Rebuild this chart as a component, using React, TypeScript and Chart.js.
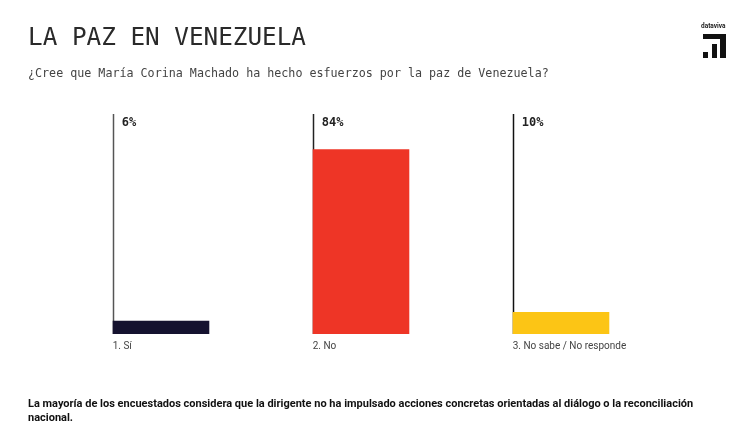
import React, { useEffect, useRef } from "react";
import { Chart, registerables } from "chart.js";

Chart.register(...registerables);

const categories = ["1. Sí", "2. No", "3. No sabe / No responde"];
const values = [6, 84, 10];
const barColors = ["#15122f", "#ee3526", "#fcc515"];
const lineColors = ["#555555", "#222222", "#111111"];
const yMax = 100;

const title = "LA PAZ EN VENEZUELA";
const subtitle = "¿Cree que María Corina Machado ha hecho esfuerzos por la paz de Venezuela?";
const footer =
  "La mayoría de los encuestados considera que la dirigente no ha impulsado acciones concretas orientadas al diálogo o la reconciliación nacional.";

const labelPlugin = {
  id: "barDecor",
  beforeDatasetsDraw(chart: any) {
    const { ctx, chartArea } = chart;
    const meta = chart.getDatasetMeta(0);
    ctx.save();
    meta.data.forEach((bar: any, i: number) => {
      const left = Math.round(bar.x - bar.width / 2) + 0.5;
      ctx.strokeStyle = lineColors[i];
      ctx.lineWidth = 1.5;
      ctx.beginPath();
      ctx.moveTo(left, chartArea.top);
      ctx.lineTo(left, bar.base);
      ctx.stroke();
    });
    ctx.restore();
  },
  afterDatasetsDraw(chart: any) {
    const { ctx, chartArea } = chart;
    const meta = chart.getDatasetMeta(0);
    ctx.save();
    meta.data.forEach((bar: any, i: number) => {
      const left = bar.x - bar.width / 2;
      ctx.fillStyle = "#222222";
      ctx.textAlign = "left";
      ctx.textBaseline = "middle";
      ctx.font = 'bold 12px "DejaVu Sans Mono"';
      ctx.fillText(values[i] + "%", left + 9, chartArea.top + 9);
      ctx.fillStyle = "#444444";
      ctx.font = "10px Roboto";
      ctx.fillText(categories[i], left, bar.base + 12);
    });
    ctx.restore();
  },
};

export default function App() {
  const canvasRef = useRef<HTMLCanvasElement>(null);

  useEffect(() => {
    if (!canvasRef.current) return;
    const chart = new Chart(canvasRef.current, {
      type: "bar",
      data: {
        labels: categories,
        datasets: [
          {
            data: values,
            backgroundColor: barColors,
            borderWidth: 0,
            categoryPercentage: 1,
            barPercentage: 0.483,
          },
        ],
      },
      options: {
        responsive: false,
        animation: false,
        layout: { padding: { left: 61, right: 89, top: 114, bottom: 88 } },
        plugins: { legend: { display: false }, tooltip: { enabled: false } },
        scales: {
          x: { display: false },
          y: { display: false, min: 0, max: yMax },
        },
      },
      plugins: [labelPlugin],
    });
    return () => chart.destroy();
  }, []);

  return (
    <div
      style={{
        position: "fixed",
        left: 0,
        top: 0,
        width: 750,
        height: 422,
        background: "#ffffff",
        overflow: "hidden",
      }}
    >
      <canvas ref={canvasRef} width={750} height={422} style={{ position: "absolute", left: 0, top: 0 }} />
      <div
        style={{
          position: "absolute",
          left: 28,
          top: 22,
          fontFamily: '"DejaVu Sans Mono", monospace',
          fontSize: 24.3,
          lineHeight: "30px",
          color: "#2a2a2a",
          whiteSpace: "nowrap",
        }}
      >
        {title}
      </div>
      <div
        style={{
          position: "absolute",
          left: 28,
          top: 64,
          fontFamily: '"DejaVu Sans Mono", monospace',
          fontSize: 11.7,
          lineHeight: "18px",
          color: "#444444",
          whiteSpace: "nowrap",
        }}
      >
        {subtitle}
      </div>
      <div
        style={{
          position: "absolute",
          left: 701,
          top: 22,
          fontFamily: "Roboto, sans-serif",
          fontWeight: 700,
          fontSize: 6.5,
          lineHeight: "8px",
          color: "#222",
        }}
      >
        dataviva
      </div>
      <div style={{ position: "absolute", left: 703, top: 34, width: 23, height: 24 }}>
        <div style={{ position: "absolute", left: 0, top: 0, width: 23, height: 5, background: "#111" }} />
        <div style={{ position: "absolute", left: 17, top: 0, width: 6, height: 24, background: "#111" }} />
        <div style={{ position: "absolute", left: 9, top: 10, width: 5, height: 14, background: "#111" }} />
        <div style={{ position: "absolute", left: 0, top: 18, width: 5, height: 6, background: "#111" }} />
      </div>
      <div
        style={{
          position: "absolute",
          left: 28,
          top: 397,
          width: 680,
          fontFamily: "Roboto, sans-serif",
          fontWeight: 700,
          fontSize: 11,
          lineHeight: "14px",
          color: "#111111",
        }}
      >
        {footer}
      </div>
    </div>
  );
}
